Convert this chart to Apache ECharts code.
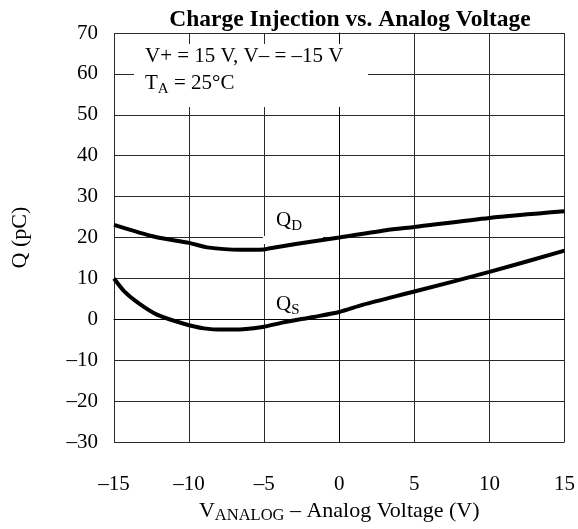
<!DOCTYPE html>
<html>
<head>
<meta charset="utf-8">
<script src="https://cdn.jsdelivr.net/npm/echarts@6/dist/echarts.min.js"></script>
<style>
html,body{margin:0;padding:0;background:#fff;overflow:hidden;width:578px;height:529px;}
#chart{width:578px;height:529px;}
</style>
</head>
<body>
<div id="chart"></div>
<script>
// Data
var qdX = [-15, -12.3, -10, -8.8, -6.6, -5, -4.7, -2.9, 0, 3.1, 5, 10, 15];
var qdY = [23.1, 20.2, 18.7, 17.6, 17.0, 17.1, 17.3, 18.4, 20.0, 21.8, 22.6, 24.8, 26.4];
var qsX = [-15, -14.3, -13.3, -12.1, -10.4, -9.0, -7.7, -6.4, -5, -3.8, -1.7, 0, 1.6, 5, 10, 15];
var qsY = [10.0, 6.8, 3.8, 1.1, -1.0, -2.2, -2.5, -2.4, -1.8, -0.8, 0.6, 1.8, 3.6, 6.8, 11.6, 16.8];
var xTicks = [-15, -10, -5, 0, 5, 10, 15];
var yTicks = [-30, -20, -10, 0, 10, 20, 30, 40, 50, 60, 70];

var FONT = "'Liberation Serif','Times New Roman',serif";
function pairs(xs, ys){ return xs.map(function(x,i){ return [x, ys[i]]; }); }
function fmt(v){ return v < 0 ? '\u2013' + Math.abs(v) : String(v); }

var richMain = {fontFamily: FONT, fontSize: 21, lineHeight: 27, color: '#000', fill: '#000', verticalAlign: 'middle'};
var richSub = {fontFamily: FONT, fontSize: 15, lineHeight: 15, color: '#000', fill: '#000', verticalAlign: 'bottom'};

var chart = echarts.init(document.getElementById('chart'), null, {renderer:'canvas', width: 578, height: 529});
var option = {
  backgroundColor: '#fff',
  animation: false,
  title: {
    text: 'Charge Injection vs. Analog Voltage',
    left: 345, top: 3, textAlign: 'center',
    textStyle: {fontFamily: FONT, fontWeight: 'bold', fontSize: 23.5, color: '#000'}
  },
  grid: {left: 114, right: 5, top: 33, bottom: 84},
  xAxis: {
    type: 'value', min: xTicks[0], max: xTicks[xTicks.length-1], interval: 5,
    axisLine: {show: true, lineStyle: {color: '#000', width: 1}},
    axisTick: {show: false},
    splitLine: {show: true, lineStyle: {color: '#2a2a2a', width: 1}},
    axisLabel: {margin: 32, fontFamily: FONT, fontSize: 21, color: '#000', formatter: fmt},
    name: '{a|V}{s|ANALOG}{a| \u2013 Analog Voltage (V)}',
    nameLocation: 'middle', nameGap: 54,
    nameTextStyle: {
      rich: {
        a: {fontFamily: FONT, fontSize: 22, lineHeight: 26, color: '#000', verticalAlign: 'middle'},
        s: {fontFamily: FONT, fontSize: 16.5, lineHeight: 16, color: '#000', verticalAlign: 'bottom'}
      }
    }
  },
  yAxis: {
    type: 'value', min: yTicks[0], max: yTicks[yTicks.length-1], interval: 10,
    axisLine: {show: true, lineStyle: {color: '#000', width: 1}},
    axisTick: {show: false},
    splitLine: {show: true, lineStyle: {color: '#2a2a2a', width: 1}},
    axisLabel: {margin: 16, fontFamily: FONT, fontSize: 21, color: '#000', formatter: fmt},
    name: 'Q (pC)', nameLocation: 'middle', nameGap: 83,
    nameTextStyle: {fontFamily: FONT, fontSize: 22, color: '#000'}
  },
  series: [
    {
      name: 'QD', type: 'line', data: pairs(qdX, qdY), showSymbol: false, smooth: 0.25,
      lineStyle: {color: '#000', width: 4}, z: 3
    },
    {
      name: 'QS', type: 'line', data: pairs(qsX, qsY), showSymbol: false, smooth: 0.25,
      lineStyle: {color: '#000', width: 4}, z: 3
    }
  ],
  graphic: [
    {type: 'rect', z: 1, shape: {x: 134, y: 44, width: 234, height: 63}, style: {fill: '#fff'}},
    {type: 'rect', z: 1, shape: {x: 263, y: 236, width: 60, height: 8}, style: {fill: '#fff'}},
    {type: 'text', z: 5, left: 145, top: 46, style: {
      text: '{a|V+ = 15 V, V\u2013 = \u201315 V}\n{a|T}{s|A}{a| = 25\u00b0C}', fill: '#000',
      rich: {a: richMain, s: richSub}}},
    {type: 'text', z: 5, left: 276, top: 210, style: {
      text: '{a|Q}{s|D}', fill: '#000', rich: {a: richMain, s: richSub}}},
    {type: 'text', z: 5, left: 276, top: 294, style: {
      text: '{a|Q}{s|S}', fill: '#000', rich: {a: richMain, s: richSub}}}
  ]
};
chart.setOption(option);
</script>
</body>
</html>
